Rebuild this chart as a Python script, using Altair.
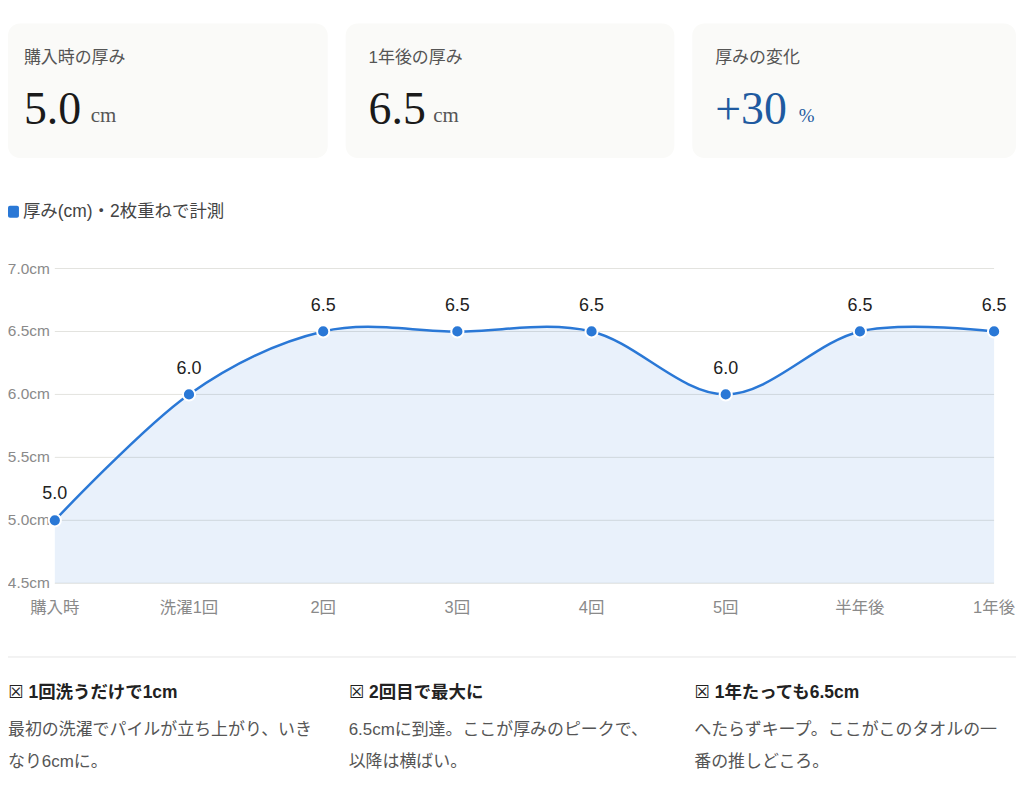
import altair as alt
import pandas as pd

# ---- data ----
stages = ["購入時", "洗濯1回", "2回", "3回", "4回", "5回", "半年後", "1年後"]
thickness = [5.0, 6.0, 6.5, 6.5, 6.5, 6.0, 6.5, 6.5]
y_ticks = [4.5, 5.0, 5.5, 6.0, 6.5, 7.0]

card_labels = ["購入時の厚み", "1年後の厚み", "厚みの変化"]
card_values = ["5.0", "6.5", "+30"]
card_units = ["cm", "cm", "%"]

legend_label = "厚み(cm)・2枚重ねで計測"

note_titles = ["☒ 1回洗うだけで1cm", "☒ 2回目で最大に", "☒ 1年たっても6.5cm"]
note_bodies = [
    ["最初の洗濯でパイルが立ち上がり、いき", "なり6cmに。"],
    ["6.5cmに到達。ここが厚みのピークで、", "以降は横ばい。"],
    ["へたらずキープ。ここがこのタオルの一", "番の推しどころ。"],
]

df = pd.DataFrame({"stage": stages, "v": thickness})
ticks = pd.DataFrame({"t": y_ticks})
one = pd.DataFrame({"a": [0]})

SANS = "Liberation Sans, DejaVu Sans, Noto Sans CJK JP"
SERIF = "Liberation Serif, DejaVu Serif"
BLUE = "#2a78d6"
OFF = 8  # page margin offset

W, H = 1012, 784

xs = alt.Scale(type="point", domain=stages, range=[55 - OFF, 998 - OFF], padding=0)
ys = alt.Scale(domain=[4.5, 7.0], range=[584 - OFF, 268 - OFF], zero=False, nice=False)

X = alt.X("stage:N", scale=xs, axis=None, sort=stages)
Y = alt.Y("v:Q", scale=ys, axis=None)

layers = []

# ---- cards ----
card_x = [(0, 329), (347, 677), (695, 1024)]
text_x = [24, 370, 718]
value_colors = ["#1a1a1a", "#1a1a1a", "#1f5aa0"]
unit_colors = ["#555555", "#555555", "#1f5aa0"]
unit_x = [91, 435, 802]
unit_sizes = [21, 21, 19]
for i, (x0, x1) in enumerate(card_x):
    layers.append(
        alt.Chart(one).mark_rect(color="#fafaf8", cornerRadius=12).encode(
            x=alt.value(max(x0 - OFF, 0)), x2=alt.value(min(x1 - OFF, W)),
            y=alt.value(22 - OFF), y2=alt.value(157 - OFF))
    )
    layers.append(
        alt.Chart(one).mark_text(align="left", baseline="middle", font=SANS,
                                 fontSize=17, color="#555555").encode(
            x=alt.value(text_x[i] - OFF), y=alt.value(57 - OFF),
            text=alt.value(card_labels[i]))
    )
    layers.append(
        alt.Chart(one).mark_text(align="left", baseline="alphabetic", font=SERIF,
                                 fontSize=46, color=value_colors[i]).encode(
            x=alt.value(text_x[i] - OFF), y=alt.value(123 - OFF),
            text=alt.value(card_values[i]))
    )
    layers.append(
        alt.Chart(one).mark_text(align="left", baseline="alphabetic", font=SERIF,
                                 fontSize=unit_sizes[i], color=unit_colors[i]).encode(
            x=alt.value(unit_x[i] - OFF), y=alt.value(121 - OFF),
            text=alt.value(card_units[i]))
    )

# ---- legend ----
layers.append(
    alt.Chart(one).mark_rect(color=BLUE, cornerRadius=2).encode(
        x=alt.value(0), x2=alt.value(11), y=alt.value(205 - OFF), y2=alt.value(217 - OFF))
)
layers.append(
    alt.Chart(one).mark_text(align="left", baseline="middle", font=SANS,
                             fontSize=17.5, color="#444444").encode(
        x=alt.value(23 - OFF), y=alt.value(211 - OFF), text=alt.value(legend_label))
)

# ---- grid ----
layers.append(
    alt.Chart(ticks).mark_rule(color="#e3e3df", strokeWidth=1).encode(
        y=alt.Y("t:Q", scale=ys, axis=None),
        x=alt.value(55 - OFF), x2=alt.value(998 - OFF))
)
# y labels
layers.append(
    alt.Chart(ticks).transform_calculate(lab="format(datum.t, '.1f') + 'cm'")
    .mark_text(align="right", baseline="middle", font=SANS, fontSize=15.5, color="#8a8a8a")
    .encode(y=alt.Y("t:Q", scale=ys, axis=None), x=alt.value(50 - OFF), text="lab:N")
)
# x labels
layers.append(
    alt.Chart(df).mark_text(align="center", baseline="middle", font=SANS,
                            fontSize=16.5, color="#8a8a8a")
    .encode(x=X, y=alt.value(609 - OFF), text="stage:N")
)

# ---- area / line / points / value labels ----
layers.append(
    alt.Chart(df).mark_area(color=BLUE, opacity=0.1, interpolate="cardinal")
    .encode(x=X, y=Y, y2=alt.datum(4.5))
)
layers.append(
    alt.Chart(df).mark_line(color=BLUE, strokeWidth=2.5, interpolate="cardinal")
    .encode(x=X, y=Y)
)
layers.append(
    alt.Chart(df).mark_point(filled=True, fill=BLUE, stroke="white", strokeWidth=2,
                             size=150, opacity=1, shape="circle")
    .encode(x=X, y=Y)
)
layers.append(
    alt.Chart(df).mark_text(align="center", baseline="middle", dy=-26, font=SANS,
                            fontSize=18, color="#222222")
    .encode(x=X, y=Y, text=alt.Text("v:Q", format=".1f"))
)

# ---- divider ----
layers.append(
    alt.Chart(one).mark_rule(color="#e6e6e6", strokeWidth=1).encode(
        x=alt.value(0), x2=alt.value(W), y=alt.value(658 - OFF))
)

# ---- notes ----
note_x = [0, 350, 697]
for i in range(3):
    nx = max(note_x[i] - OFF, 0)
    layers.append(
        alt.Chart(one).mark_text(align="left", baseline="middle", font=SANS,
                                 fontSize=17.5, fontWeight="bold", color="#222222").encode(
            x=alt.value(nx), y=alt.value(694 - OFF), text=alt.value(note_titles[i]))
    )
    layers.append(
        alt.Chart(one).mark_text(align="left", baseline="middle", font=SANS,
                                 fontSize=17, color="#555555", lineHeight=32).encode(
            x=alt.value(nx), y=alt.value(731 - OFF), text=alt.value(note_bodies[i]))
    )

chart = alt.layer(*layers).properties(
    width=W, height=H, autosize=alt.AutoSizeParams(type="none"), padding=0
).configure_view(stroke=None)

chart.save("out.html", embed_options={"renderer": "svg", "actions": False})
